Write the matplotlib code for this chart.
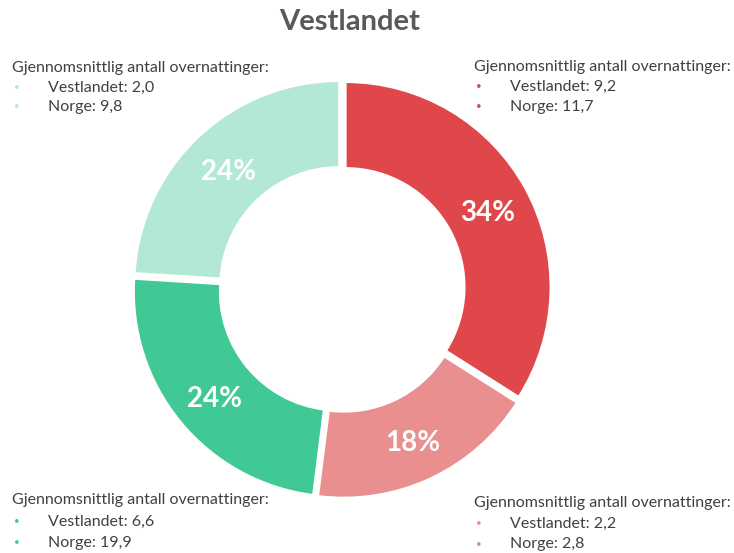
import numpy as np
import matplotlib.pyplot as plt

plt.rcParams['font.family'] = ['Lato', 'DejaVu Sans']

# andel per gruppe (prosent), fra toppen og med klokka
shares = [34, 18, 24, 24]
colors = ['#E0474A', '#E98F8F', '#40C994', '#B3E9D4']
pct_labels = ['34%', '18%', '24%', '24%']

heading = 'Gjennomsnittlig antall overnattinger:'
vest_vals = ['9,2', '2,2', '6,6', '2,0']
norge_vals = ['11,7', '2,8', '19,9', '9,8']

W, H = 734, 553
fig = plt.figure(figsize=(W / 100, H / 100), dpi=100)

# donut placed in pixel terms: centre (342, 289), radius ~205 px
cx, cy, R = 342, 289, 205
L = 1.1
ax = fig.add_axes([(cx - R * L) / W, (H - cy - R * L) / H, 2 * R * L / W, 2 * R * L / H])
wedges, _ = ax.pie(shares, colors=colors, startangle=90, counterclock=False,
                   radius=1.0, explode=[0.02] * 4,
                   wedgeprops=dict(width=0.42, edgecolor='white', linewidth=1.5))
ax.set_xlim(-L, L)
ax.set_ylim(-L, L)
ax.set_aspect('equal')
ax.axis('off')

# percent labels in the middle of the ring
ang = 90.0
for s, lab in zip(shares, pct_labels):
    mid = ang - s / sum(shares) * 360 / 2
    ang -= s / sum(shares) * 360
    r = 1.0 - 0.21 + 0.02
    ax.text(r * np.cos(np.radians(mid)), r * np.sin(np.radians(mid)) - 0.02, lab,
            ha='center', va='center', color='white', fontsize=20, fontweight='bold')

fig.text(350 / W, 1 - 22 / H, 'Vestlandet', ha='center', va='center',
         fontsize=21, fontweight='bold', color='#595959')

# text blocks: (heading x, heading y, line spacing), order matches slices
blocks = [(474, 67, 20), (474, 503, 20.5), (12, 500, 21.5), (12, 68, 19.5)]
txt_col = '#404040'
for (x, y, dy), col, v, n in zip(blocks, colors, vest_vals, norge_vals):
    fig.text(x / W, 1 - y / H, heading, ha='left', va='center', fontsize=11.5, color=txt_col)
    for i, line in enumerate(['Vestlandet: ' + v, 'Norge: ' + n]):
        yy = y + dy * (i + 1)
        fig.text((x + 2) / W, 1 - yy / H, '•', ha='left', va='center', fontsize=7, color=col)
        fig.text((x + 36) / W, 1 - yy / H, line, ha='left', va='center', fontsize=11.5, color=txt_col)

fig.savefig('out.png', dpi=100, facecolor='white')
